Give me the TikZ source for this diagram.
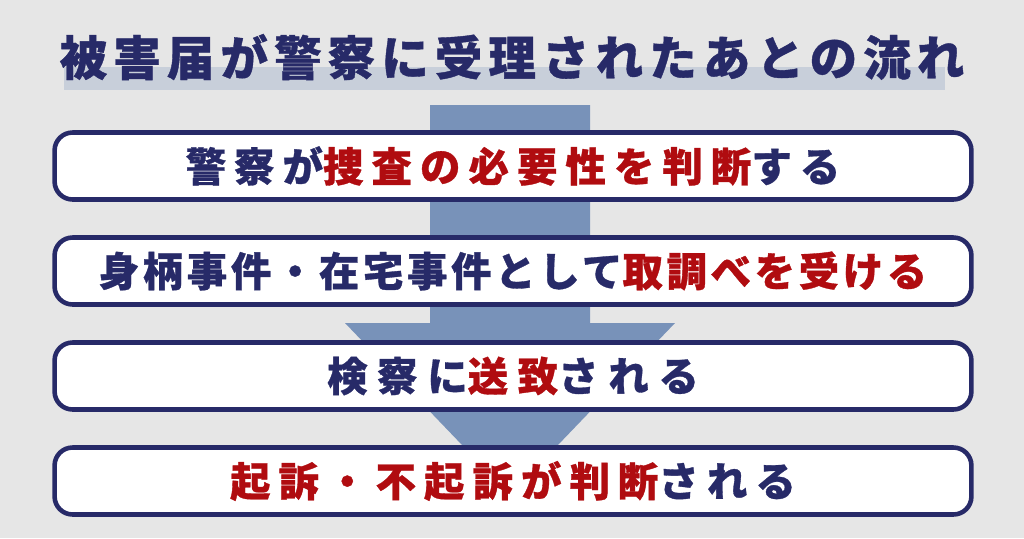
\documentclass[tikz,border=0pt]{standalone}
\usepackage{fontspec}
\newfontfamily\jpfont{Noto Sans CJK JP}[LetterSpace=20, FakeBold=0.8]
\newfontfamily\jptitle{Noto Sans CJK JP}[LetterSpace=13, FakeBold=0.8]
\definecolor{bggray}{HTML}{E6E6E6}
\definecolor{navy}{HTML}{272A68}
\definecolor{darkred}{HTML}{B00C10}
\definecolor{arrowblue}{HTML}{7892B9}
\definecolor{barblue}{HTML}{C8CFDA}
\newcommand{\hl}[1]{\textcolor{darkred}{#1}}

\begin{document}
\begin{tikzpicture}[x=0.02cm, y=-0.02cm,
        flowbox/.style={draw=navy, line width=2.6pt, fill=white, rounded corners=0.36cm,
            minimum width=18.34cm, minimum height=1.34cm, text=navy,
            font=\jpfont\bfseries\fontsize{23pt}{23pt}\selectfont},
        tightbox/.style={flowbox, font=\jpfont\bfseries\fontsize{23pt}{23pt}\selectfont\addfontfeature{LetterSpace=9}},
        widebox/.style={flowbox, font=\jpfont\bfseries\fontsize{23pt}{23pt}\selectfont\addfontfeature{LetterSpace=24}},
        titletext/.style={text=navy, font=\jptitle\bfseries\fontsize{27pt}{27pt}\selectfont}]

    % background
    \fill [bggray] (0, 0) rectangle (1024, 538);

    % title with bar
    \fill [barblue] (64, 67) rectangle (945, 90);
    \node [titletext] (title) at (512, 57) {被害届が警察に受理されたあとの流れ};

    % big arrow behind the boxes
    \fill [arrowblue] (430, 105) -- (590, 105) -- (590, 323) -- (675, 323)
        -- (510, 495) -- (345, 323) -- (430, 323) -- cycle;

    % steps
    \node [flowbox] (box1) at (513, 166) {警察が\hl{捜査の必要性を判断}する};
    \node [tightbox] (box2) at (513, 271) {身柄事件・在宅事件として\hl{取調べを受ける}};
    \node [widebox] (box3) at (513, 376) {検察に\hl{送致}される};
    \node [flowbox] (box4) at (513, 481) {\hl{起訴・不起訴が判断}される};
\end{tikzpicture}
\end{document}
